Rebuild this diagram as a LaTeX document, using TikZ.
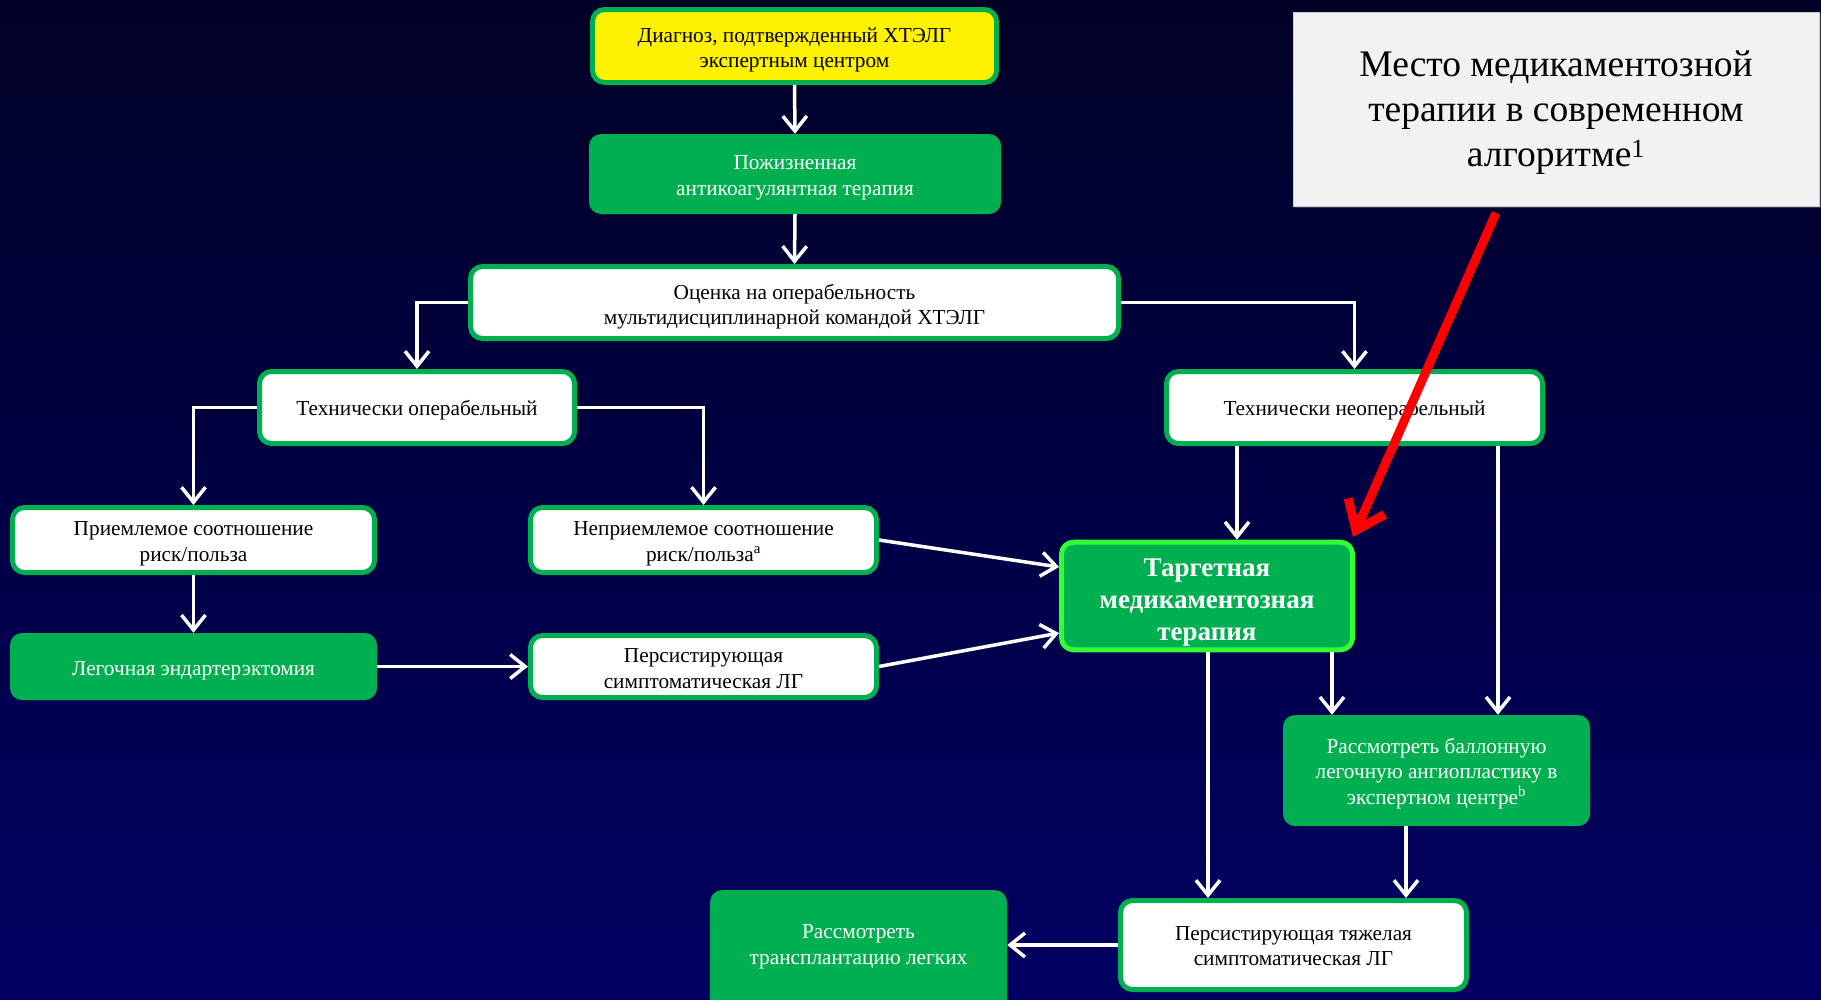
\documentclass[tikz,border=0pt]{standalone}
\usepackage{fontspec}
\setmainfont{Liberation Serif}
\usetikzlibrary{arrows.meta,shadows}
\definecolor{grn}{RGB}{0,176,80}
\definecolor{lgrn}{RGB}{51,255,51}
\definecolor{bgtop}{RGB}{0,0,38}
\definecolor{bgbot}{RGB}{0,0,98}
\definecolor{graybox}{RGB}{242,242,242}
\tikzset{
  base/.style={rounded corners=12pt, inner sep=0pt},
  wbox/.style={base, draw=grn, line width=5pt, fill=white},
  ybox/.style={base, draw=grn, line width=5pt, fill=yellow},
  gbox/.style={base, fill=grn},
  txt/.style={align=center, inner sep=0pt, text=black,
    font=\fontsize{21.3}{25.5}\selectfont},
  wtxt/.style={txt, text=white},
  tbox/.style={rounded corners=12pt, align=center, inner sep=0pt,
    draw=lgrn, line width=5pt, fill=grn, text=white,
    font=\fontsize{27}{32}\selectfont\bfseries},
  conn/.style={draw=white, line width=3.5pt,
    -{Straight Barb[length=15pt,width=24pt,line width=3.5pt]}},
  redarrow/.style={draw=red, line width=9pt,
    -{Straight Barb[length=26pt,width=40pt,line width=9pt]}},
}
\begin{document}
\begin{tikzpicture}[x=1pt,y=-1pt]
\useasboundingbox (0,0) rectangle (1821,999);
\fill[top color=bgtop, bottom color=bgbot] (0,0) rectangle (1821,999);

\node[ybox, minimum width=404pt, minimum height=73pt] (diag) at (794.5,46) {};
\node[txt] (diagt) at ([yshift=-4pt]diag.center)
  {Диагноз, подтвержденный ХТЭЛГ\\экспертным центром};
\node[gbox, minimum width=412pt, minimum height=80pt] (anti) at (795,174) {};
\node[wtxt] (antit) at ([yshift=-4pt]anti.center)
  {Пожизненная\\антикоагулянтная терапия};
\node[wbox, minimum width=648pt, minimum height=72pt] (ocen) at (794.5,302.5) {};
\node[txt] (ocent) at ([yshift=-4pt]ocen.center)
  {Оценка на операбельность\\мультидисциплинарной командой ХТЭЛГ};
\node[wbox, minimum width=315pt, minimum height=72pt] (techop) at (417,407.5) {};
\node[txt] (techopt) at ([yshift=-3pt]techop.center)
  {Технически операбельный};
\node[wbox, minimum width=376pt, minimum height=72pt] (technon) at (1354.5,407.5) {};
\node[txt] (technont) at ([yshift=-3pt]technon.center)
  {Технически неоперабельный};
\node[wbox, minimum width=362pt, minimum height=65pt] (priem) at (193.5,540) {};
\node[txt] (priemt) at ([yshift=-4pt]priem.center)
  {Приемлемое соотношение\\риск/польза};
\node[wbox, minimum width=346pt, minimum height=65pt] (nepriem) at (703.5,540) {};
\node[txt] (nepriemt) at ([yshift=-4pt]nepriem.center)
  {Неприемлемое соотношение\\риск/польза\textsuperscript{a}};
\node[tbox, minimum width=291pt, minimum height=103pt] (targ) at (1207,596)
  {\strut\rule{0pt}{34pt}Таргетная\\медикаментозная\\терапия\strut};
\node[gbox, minimum width=367pt, minimum height=67pt] (leg) at (193.5,666.5) {};
\node[wtxt] (legt) at ([yshift=-4pt]leg.center)
  {Легочная эндартерэктомия};
\node[wbox, minimum width=346pt, minimum height=62pt] (pers) at (703.5,666.5) {};
\node[txt] (perst1) at ([yshift=-2pt]pers.center)
  {Персистирующая\\симптоматическая ЛГ};
\node[gbox, minimum width=307pt, minimum height=111pt] (ball) at (1436.5,770.5) {};
\node[wtxt] (ballt) at ([yshift=-3pt]ball.center)
  {Рассмотреть баллонную\\легочную ангиопластику в\\экспертном центре\textsuperscript{b}};
\node[wbox, minimum width=346pt, minimum height=89pt] (perst) at (1293.5,945) {};
\node[txt] (perstt) at ([yshift=-1pt]perst.center)
  {Персистирующая тяжелая\\симптоматическая ЛГ};
\node[gbox, minimum width=297pt, minimum height=130pt, anchor=north] (transp) at (858.5,890) {};
\node[wtxt] (transpt) at (858.5,947)
  {Рассмотреть\\трансплантацию легких};
\node[fill=graybox, draw=gray!40, line width=0.5pt, minimum width=526pt, minimum height=194pt,
  align=center, inner sep=0pt, font=\fontsize{37.5}{45}\selectfont,
  drop shadow={shadow xshift=2pt, shadow yshift=-2pt, opacity=0.4}] (place) at (1556,109)
  {\rule{0pt}{33pt}Место медикаментозной\\терапии в современном\\алгоритме\textsuperscript{1}};

\coordinate (c1) at (1237,0);
\coordinate (c2) at (1498,0);
\coordinate (c3) at (1332,0);
\coordinate (c4) at (1208,0);
\coordinate (c5) at (1406,0);
\coordinate (c6) at (1,567);
\coordinate (c7) at (1,633);

\draw[conn] (diag.south) -- (anti.north);
\draw[conn] (anti.south) -- (ocen.north);
\draw[conn] (ocen.west) -| (techop.north);
\draw[conn] (ocen.east) -| (technon.north);
\draw[conn] (techop.west) -| (priem.north);
\draw[conn] (techop.east) -| (nepriem.north);
\draw[conn] (priem.south) -- (leg.north);
\draw[conn] (leg.east) -- (pers.west);
\draw[conn] (nepriem.east) -- (targ.west |- c6);
\draw[conn] (pers.east) -- (targ.west |- c7);
\draw[conn] (technon.south -| c1) -- (targ.north -| c1);
\draw[conn] (technon.south -| c2) -- (ball.north -| c2);
\draw[conn] (targ.south -| c3) -- (ball.north -| c3);
\draw[conn] (targ.south -| c4) -- (perst.north -| c4);
\draw[conn] (ball.south -| c5) -- (perst.north -| c5);
\draw[conn] (perst.west) -- (transp.east |- perst.west);

\coordinate (rstart) at (1496,213);
\coordinate (rend) at (1353,537);
\draw[redarrow] (rstart) -- (rend);
\end{tikzpicture}
\end{document}
